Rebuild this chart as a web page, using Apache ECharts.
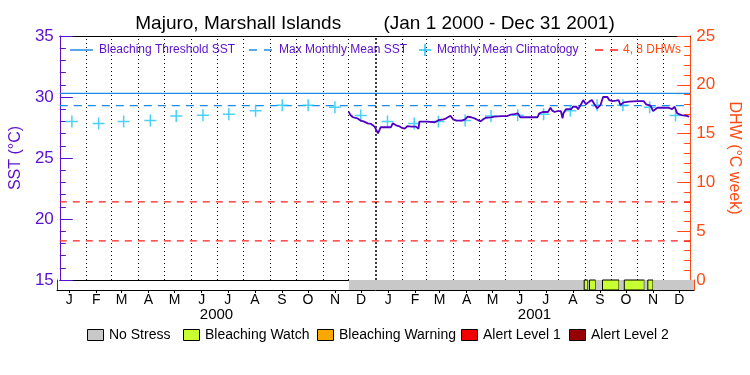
<!DOCTYPE html>
<html><head><meta charset="utf-8">
<script src="https://cdn.jsdelivr.net/npm/echarts@6/dist/echarts.min.js"></script>
<style>html,body{margin:0;padding:0;background:#fff}#c{width:750px;height:375px}</style>
</head><body><div id="c"></div>
<script>
// ---------------- data ----------------
const titleText = 'Majuro, Marshall Islands        (Jan 1 2000 - Dec 31 2001)';
const axisStart = '2000-01-01';
const axisEnd = '2002-01-01';
const monthLetters = ['J','F','M','A','M','J','J','A','S','O','N','D'];
const monthLabelDates = ['2000-01-15','2000-02-15','2000-03-15','2000-04-15','2000-05-15','2000-06-15','2000-07-15','2000-08-15','2000-09-15','2000-10-15','2000-11-15','2000-12-15',
  '2001-01-15','2001-02-15','2001-03-15','2001-04-15','2001-05-15','2001-06-15','2001-07-15','2001-08-15','2001-09-15','2001-10-15','2001-11-15','2001-12-15'];
const yearLabelDates = ['2000-07-02','2001-07-02'];
const monthStartDates = ['2000-02-01','2000-03-01','2000-04-01','2000-05-01','2000-06-01','2000-07-01','2000-08-01','2000-09-01','2000-10-01','2000-11-01','2000-12-01',
  '2001-01-01','2001-02-01','2001-03-01','2001-04-01','2001-05-01','2001-06-01','2001-07-01','2001-08-01','2001-09-01','2001-10-01','2001-11-01','2001-12-01'];
const yearBoundary = '2001-01-01';
const climDates = monthLabelDates;
const climValues = [28.0, 27.82, 28.0, 28.08, 28.44, 28.5, 28.58, 28.88, 29.33, 29.33, 29.15, 28.48,
                    28.0, 27.82, 28.0, 28.08, 28.44, 28.5, 28.58, 28.88, 29.33, 29.33, 29.15, 28.48];
const bleachingThreshold = 30.3;
const maxMonthlyMean = 29.3;
const dhwLevels = [4, 8];
const sstDates = ['2000-12-01','2000-12-03','2000-12-06','2000-12-11','2000-12-15','2000-12-19','2000-12-23','2000-12-27','2000-12-31',
  '2001-01-02','2001-01-04','2001-01-06','2001-01-07','2001-01-19','2001-01-21','2001-01-25','2001-01-28',
  '2001-02-01','2001-02-04','2001-02-07','2001-02-09','2001-02-12','2001-02-14','2001-02-17','2001-02-20','2001-02-21',
  '2001-03-02','2001-03-11','2001-03-15','2001-03-21','2001-03-24','2001-03-29',
  '2001-04-01','2001-04-05','2001-04-11','2001-04-15','2001-04-18','2001-04-22','2001-04-26','2001-04-30',
  '2001-05-03','2001-05-06','2001-05-09','2001-05-15','2001-05-19','2001-05-27',
  '2001-06-03','2001-06-07','2001-06-11','2001-06-15','2001-06-18',
  '2001-07-02','2001-07-08','2001-07-10','2001-07-14','2001-07-20','2001-07-23','2001-07-25','2001-07-28','2001-07-31',
  '2001-08-04','2001-08-06','2001-08-07','2001-08-10','2001-08-16','2001-08-18','2001-08-22','2001-08-24','2001-08-27','2001-08-30',
  '2001-09-02','2001-09-06','2001-09-09','2001-09-12','2001-09-15','2001-09-19','2001-09-22','2001-09-27','2001-09-29',
  '2001-10-03','2001-10-07','2001-10-10','2001-10-12','2001-10-16','2001-10-22',
  '2001-11-01','2001-11-08','2001-11-11','2001-11-16','2001-11-19','2001-11-24',
  '2001-12-01','2001-12-07','2001-12-11','2001-12-14','2001-12-17','2001-12-22','2001-12-28','2001-12-31'];
const sstValues = [28.80,28.52,28.34,28.25,28.06,27.98,27.84,27.79,27.57,
  27.43,27.02,27.35,27.52,27.52,27.84,27.68,27.62,
  27.46,27.40,27.62,27.76,27.57,27.43,27.57,27.40,27.98,
  27.98,27.93,28.10,28.17,28.25,28.47,
  28.17,28.06,28.06,28.17,28.39,28.34,28.25,28.10,
  28.00,28.17,28.30,28.33,28.39,28.44,
  28.44,28.55,28.60,28.66,28.34,
  28.34,28.34,28.66,28.77,28.77,29.12,28.88,28.77,28.85,
  28.85,28.25,28.66,29.00,29.00,29.20,29.20,29.00,29.34,29.75,
  29.40,29.62,29.75,29.40,29.07,29.34,30.00,30.00,29.75,
  29.67,29.70,29.75,29.34,29.56,29.62,
  29.67,29.67,29.40,29.29,28.85,29.12,
  29.12,29.12,29.00,29.20,28.66,28.52,28.45,28.39];
const statusStart = ['2000-12-01','2001-08-28','2001-09-01','2001-09-03','2001-09-10','2001-09-18','2001-10-07','2001-10-13','2001-11-05','2001-11-09','2001-11-15'];
const statusEnd   = ['2001-08-28','2001-09-01','2001-09-03','2001-09-10','2001-09-18','2001-10-07','2001-10-13','2001-11-05','2001-11-09','2001-11-15','2002-01-01'];
const statusLevel = [0,1,0,1,0,1,0,1,0,1,0];
const statusNames = ['No Stress','Bleaching Watch','Bleaching Warning','Alert Level 1','Alert Level 2'];
const statusColors = ['#c8c8c8','#c8ff32','#f8a800','#f00000','#960000'];

// ---------------- styles ----------------
const PURPLE = '#5a10cc';
const LINEPURPLE = '#5000c0';
const ORANGE = '#ff4a14';
const BLUE = '#1e8ce6';
const CYAN = '#1ec4f4';
const RED = '#ff1e1e';
const FONT = 'Liberation Sans';

function t(s) { const p = s.split('-').map(Number); return new Date(p[0], p[1] - 1, p[2]).getTime(); }
const tMin = t(axisStart), tMax = t(axisEnd);

const chart = echarts.init(document.getElementById('c'), null, {renderer: 'canvas'});

const hiddenAxisBits = {axisTick: {show: false}, axisLabel: {show: false}, splitLine: {show: false}};

const option = {
  backgroundColor: '#fff',
  animation: false,
  title: {
    text: titleText, left: 'center', top: 9,
    textStyle: {fontFamily: FONT, fontSize: 19, fontWeight: 'normal', color: '#000'}
  },
  grid: [
    {left: 57, right: 56, top: 36, height: 244},
    {left: 57, right: 56, top: 280, height: 10}
  ],
  xAxis: [
    {gridIndex: 0, type: 'value', min: tMin, max: tMax, position: 'bottom',
     axisLine: {lineStyle: {color: '#000', width: 1}}, ...hiddenAxisBits},
    {gridIndex: 0, type: 'value', min: tMin, max: tMax, position: 'top',
     axisLine: {lineStyle: {color: '#000', width: 1}}, ...hiddenAxisBits},
    {gridIndex: 1, type: 'value', min: tMin, max: tMax, position: 'bottom',
     axisLine: {lineStyle: {color: '#000', width: 1}},
     axisTick: {show: true, length: 3, customValues: monthLabelDates.map(t), lineStyle: {color: '#000'}},
     axisLabel: {show: true, customValues: monthLabelDates.map(t), margin: 3, color: '#000', fontFamily: FONT, fontSize: 14,
       formatter: v => monthLetters[new Date(v).getMonth()]},
     splitLine: {show: false}},
    {gridIndex: 1, type: 'value', min: tMin, max: tMax, position: 'bottom', offset: 13,
     axisLine: {show: false}, axisTick: {show: false},
     axisLabel: {show: true, customValues: yearLabelDates.map(t), margin: 4, color: '#000', fontFamily: FONT, fontSize: 15,
       formatter: v => String(new Date(v).getFullYear())},
     splitLine: {show: false}}
  ],
  yAxis: [
    {gridIndex: 0, type: 'value', position: 'left', min: 15, max: 35, interval: 5,
     axisLine: {show: true, lineStyle: {color: PURPLE, width: 1}},
     axisTick: {show: true, inside: true, length: 13, lineStyle: {color: PURPLE}},
     minorTick: {show: true, splitNumber: 5, length: 6, lineStyle: {color: PURPLE}},
     axisLabel: {color: PURPLE, fontFamily: FONT, fontSize: 17, margin: 6},
     splitLine: {show: false},
     name: 'SST (°C)', nameLocation: 'middle', nameGap: 29,
     nameTextStyle: {color: PURPLE, fontFamily: FONT, fontSize: 16}},
    {gridIndex: 0, type: 'value', position: 'right', min: 0, max: 25, interval: 5,
     axisLine: {show: true, lineStyle: {color: ORANGE, width: 1}},
     axisTick: {show: true, inside: true, length: 13, lineStyle: {color: ORANGE}},
     minorTick: {show: true, splitNumber: 5, length: 6, lineStyle: {color: ORANGE}},
     axisLabel: {color: ORANGE, fontFamily: FONT, fontSize: 17, margin: 6},
     splitLine: {show: false},
     name: 'DHW (°C week)', nameLocation: 'middle', nameGap: 28, nameRotate: -90,
     nameTextStyle: {color: ORANGE, fontFamily: FONT, fontSize: 16}},
    {gridIndex: 1, type: 'value', position: 'left', min: 0, max: 1,
     axisLine: {show: true, lineStyle: {color: PURPLE}}, ...hiddenAxisBits},
    {gridIndex: 1, type: 'value', position: 'right', min: 0, max: 1,
     axisLine: {show: true, lineStyle: {color: ORANGE}}, ...hiddenAxisBits}
  ],
  series: [
    {
      name: 'Status', type: 'custom', xAxisIndex: 2, yAxisIndex: 2,
      encode: {x: [0, 1]},
      data: statusStart.map((s, i) => [t(s), t(statusEnd[i]), statusLevel[i]]),
      renderItem: function (params, api) {
        const p0 = api.coord([api.value(0), 1]);
        const p1 = api.coord([api.value(1), 0]);
        const lvl = api.value(2);
        return {
          type: 'rect',
          shape: {x: p0[0], y: p0[1], width: p1[0] - p0[0], height: p1[1] - p0[1]},
          style: {fill: statusColors[lvl], stroke: lvl > 0 ? '#000' : null, lineWidth: 1}
        };
      },
      z: 1
    },
    {
      name: 'Bleaching Threshold SST', type: 'line', xAxisIndex: 0, yAxisIndex: 0,
      data: [[tMin, bleachingThreshold], [tMax, bleachingThreshold]],
      symbol: 'none', lineStyle: {color: BLUE, width: 1.3}, z: 3,
      markLine: {
        silent: true, symbol: 'none', label: {show: false},
        lineStyle: {color: '#000', width: 1, type: [1, 3]},
        data: monthStartDates.map(d => d === yearBoundary
          ? {xAxis: t(d), lineStyle: {color: '#000', width: 1.5, type: [2, 2]}}
          : {xAxis: t(d)})
      }
    },
    {
      name: 'Max Monthly Mean SST', type: 'line', xAxisIndex: 0, yAxisIndex: 0,
      data: [[tMin, maxMonthlyMean], [tMax, maxMonthlyMean]],
      symbol: 'none', lineStyle: {color: BLUE, width: 1.3, type: [8, 6]}, z: 3
    },
    {
      name: '4 DHW', type: 'line', xAxisIndex: 0, yAxisIndex: 1,
      data: [[tMin, dhwLevels[0]], [tMax, dhwLevels[0]]],
      symbol: 'none', lineStyle: {color: RED, width: 1.2, type: [7, 6]}, z: 3
    },
    {
      name: '8 DHW', type: 'line', xAxisIndex: 0, yAxisIndex: 1,
      data: [[tMin, dhwLevels[1]], [tMax, dhwLevels[1]]],
      symbol: 'none', lineStyle: {color: RED, width: 1.2, type: [7, 6]}, z: 3
    },
    {
      name: 'Monthly Mean Climatology', type: 'scatter', xAxisIndex: 0, yAxisIndex: 0,
      data: climDates.map((d, i) => [t(d), climValues[i]]),
      symbol: 'path://M0,5.25H12V6.75H0Z M5.25,0H6.75V12H5.25Z', symbolSize: 12,
      itemStyle: {color: CYAN}, z: 4
    },
    {
      name: 'SST', type: 'line', xAxisIndex: 0, yAxisIndex: 0,
      data: sstDates.map((d, i) => [t(d), sstValues[i]]),
      symbol: 'none', lineStyle: {color: LINEPURPLE, width: 1.8}, z: 5
    }
  ],
  graphic: [
    // top legend
    {type: 'line', shape: {x1: 70, y1: 50, x2: 93, y2: 50}, style: {stroke: BLUE, lineWidth: 1.5}},
    {type: 'text', x: 99, y: 50, style: {text: 'Bleaching Threshold SST', fill: PURPLE, font: '12px "Liberation Sans"', verticalAlign: 'middle'}},
    {type: 'line', shape: {x1: 249, y1: 50, x2: 273, y2: 50}, style: {stroke: BLUE, lineWidth: 1.5, lineDash: [8, 7]}},
    {type: 'text', x: 279, y: 50, style: {text: 'Max Monthly Mean SST', fill: PURPLE, font: '12px "Liberation Sans"', verticalAlign: 'middle'}},
    {type: 'line', shape: {x1: 419, y1: 50, x2: 431, y2: 50}, style: {stroke: CYAN, lineWidth: 1.5}},
    {type: 'line', shape: {x1: 425, y1: 44, x2: 425, y2: 56}, style: {stroke: CYAN, lineWidth: 1.5}},
    {type: 'text', x: 437, y: 50, style: {text: 'Monthly Mean Climatology', fill: PURPLE, font: '12px "Liberation Sans"', verticalAlign: 'middle'}},
    {type: 'line', shape: {x1: 595, y1: 50, x2: 618, y2: 50}, style: {stroke: RED, lineWidth: 1.5, lineDash: [8, 7]}},
    {type: 'text', x: 623, y: 50, style: {text: '4, 8 DHWs', fill: ORANGE, font: '12px "Liberation Sans"', verticalAlign: 'middle'}},
    // bottom legend
    ...[87, 183, 317, 461, 569].flatMap((x, i) => [
      {type: 'rect', shape: {x: x + 0.5, y: 329.5, width: 16, height: 11}, style: {fill: statusColors[i], stroke: '#000', lineWidth: 1}},
      {type: 'text', x: x + 22, y: 335.5, style: {text: statusNames[i], fill: '#000', font: '14px "Liberation Sans"', verticalAlign: 'middle'}}
    ])
  ]
};
chart.setOption(option);
</script>
</body></html>
